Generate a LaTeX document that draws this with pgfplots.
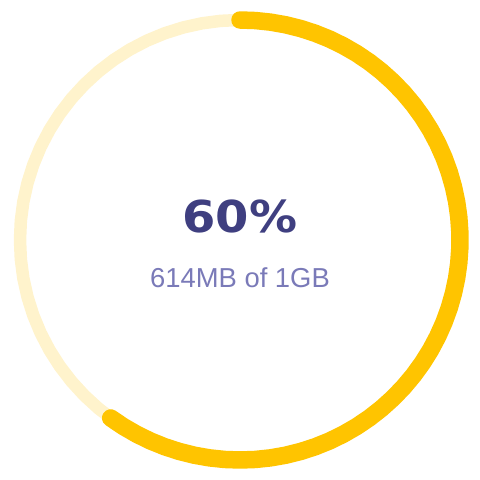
\documentclass[border=0pt]{standalone}
\usepackage{pgfplots}
\pgfplotsset{compat=1.18}
\usepgfplotslibrary{polar}
\usepackage{fontspec}
\setmainfont{Liberation Sans}
\newfontfamily\numfont{DejaVu Sans}
\definecolor{gold}{HTML}{FFC400}
\definecolor{paleg}{HTML}{FFF3CC}
\definecolor{navy}{HTML}{3F3F80}
\definecolor{lav}{HTML}{7A7AB8}
\begin{document}
\begin{tikzpicture}
\path[use as bounding box] (-240bp,-240bp) rectangle (240bp,240bp);
\begin{polaraxis}[at={(0,0)}, anchor=origin, scale only axis, width=440bp, height=440bp,
  xmin=0, xmax=360, ymin=0, ymax=1, hide axis, clip=false]
\addplot[no markers, paleg, line width=12.5bp, line join=round] coordinates {
(0,1)(5,1)(10,1)(15,1)(20,1)(25,1)(30,1)(35,1)(40,1)(45,1)(50,1)(55,1)(60,1)(65,1)(70,1)(75,1)(80,1)(85,1)(90,1)(95,1)(100,1)(105,1)(110,1)(115,1)(120,1)(125,1)(130,1)(135,1)(140,1)(145,1)(150,1)(155,1)(160,1)(165,1)(170,1)(175,1)(180,1)(185,1)(190,1)(195,1)(200,1)(205,1)(210,1)(215,1)(220,1)(225,1)(230,1)(235,1)(240,1)(245,1)(250,1)(255,1)(260,1)(265,1)(270,1)(275,1)(280,1)(285,1)(290,1)(295,1)(300,1)(305,1)(310,1)(315,1)(320,1)(325,1)(330,1)(335,1)(340,1)(345,1)(350,1)(355,1)(360,1)(365,1)};
\addplot[no markers, gold, line width=17.5bp, line cap=round, line join=round] coordinates {
(90,1)(86,1)(82,1)(78,1)(74,1)(70,1)(66,1)(62,1)(58,1)(54,1)(50,1)(46,1)(42,1)(38,1)(34,1)(30,1)(26,1)(22,1)(18,1)(14,1)(10,1)(6,1)(2,1)(-2,1)(-6,1)(-10,1)(-14,1)(-18,1)(-22,1)(-26,1)(-30,1)(-34,1)(-38,1)(-42,1)(-46,1)(-50,1)(-54,1)(-58,1)(-62,1)(-66,1)(-70,1)(-74,1)(-78,1)(-82,1)(-86,1)(-90,1)(-94,1)(-98,1)(-102,1)(-106,1)(-110,1)(-114,1)(-118,1)(-122,1)(-126,1)};
\node[text=navy, inner sep=0pt, anchor=base] at (axis cs:0,0) [yshift=8bp] {\scalebox{1.09}[1]{\numfont\bfseries\fontsize{44bp}{44bp}\selectfont 60\%}};
\node[text=lav, inner sep=0pt, anchor=base] at (axis cs:0,0) [yshift=-47bp] {\fontsize{27.4bp}{30bp}\selectfont 614MB of 1GB};
\end{polaraxis}
\end{tikzpicture}
\end{document}
